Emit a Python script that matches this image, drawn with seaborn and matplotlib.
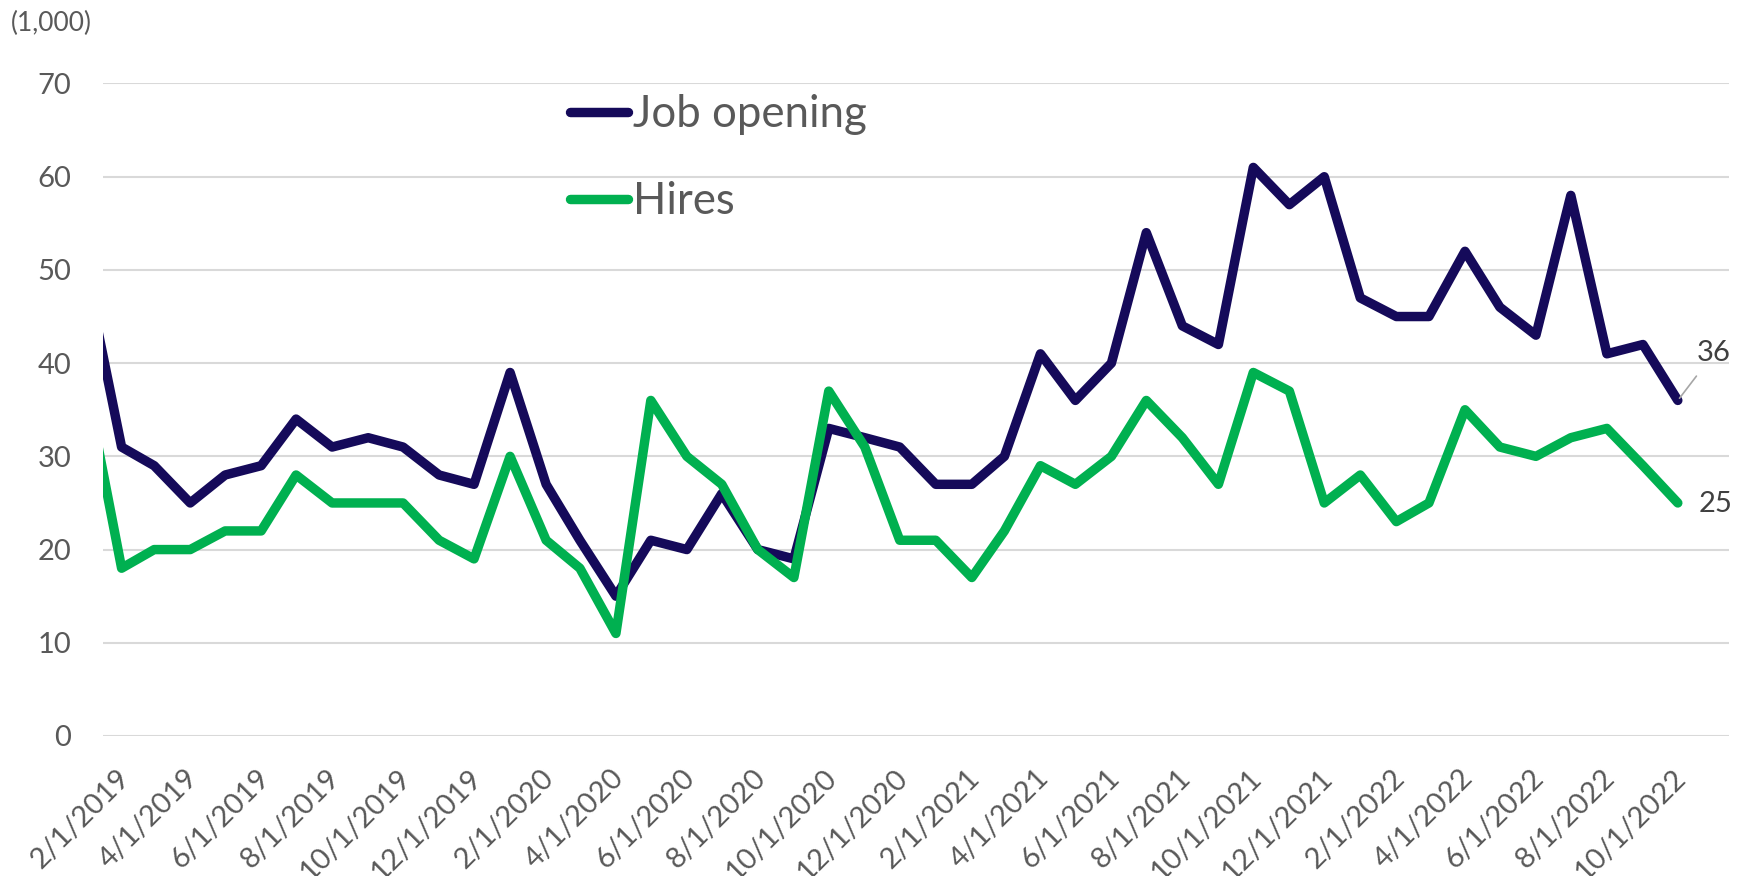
import pandas as pd
import matplotlib.pyplot as plt
import matplotlib.dates as mdates
import matplotlib.transforms as mtransforms
import seaborn as sns

# Styling
sns.set_style("white")
plt.rcParams['font.family'] = ['Lato', 'DejaVu Sans']

# Monthly data, 1/1/2019 .. 10/1/2022 (thousands)
months = pd.date_range("2019-01-01", "2022-10-01", freq="MS")
job_opening = [50, 31, 29, 25, 28, 29, 34, 31, 32, 31, 28, 27,
               39, 27, 21, 15, 21, 20, 26, 20, 19, 33, 32, 31,
               27, 27, 30, 41, 36, 40, 54, 44, 42, 61, 57, 60,
               47, 45, 45, 52, 46, 43, 58, 41, 42, 36]
hires = [38, 18, 20, 20, 22, 22, 28, 25, 25, 25, 21, 19,
         30, 21, 18, 11, 36, 30, 27, 20, 17, 37, 31, 21,
         21, 17, 22, 29, 27, 30, 36, 32, 27, 39, 37, 25,
         28, 23, 25, 35, 31, 30, 32, 33, 29, 25]
y_ticks = [0, 10, 20, 30, 40, 50, 60, 70]
tick_dates = months[1::2]
tick_labels = [f"{d.month}/{d.day}/{d.year}" for d in tick_dates]

NAVY = '#150A5A'
GREEN = '#00B050'
TEXT = '#595959'
W, H = 1746, 876

fig = plt.figure(figsize=(W / 100, H / 100), dpi=100)
ax = fig.add_axes([103 / W, 1 - 736 / H, (1729 - 103) / W, (736 - 83.5) / H])

line_kw = dict(lw=6.8, solid_joinstyle='round', solid_capstyle='round')
sns.lineplot(x=months, y=job_opening, ax=ax, color=NAVY, label='Job opening', **line_kw)
sns.lineplot(x=months, y=hires, ax=ax, color=GREEN, label='Hires', **line_kw)

ax.set_xlim(mdates.date2num(pd.Timestamp("2019-01-16")), mdates.date2num(pd.Timestamp("2022-11-14")))
ax.set_ylim(0, 70)
ax.set_yticks(y_ticks)
ax.set_xticks(tick_dates)
ax.set_xticklabels(tick_labels)
ax.set_xlabel('')
ax.set_ylabel('')

ax.grid(axis='y', color='#D9D9D9', lw=1.5)
ax.grid(axis='x', visible=False)
ax.set_axisbelow(True)
for s in ax.spines.values():
    s.set_visible(False)

ax.tick_params(axis='y', length=0, pad=23, labelsize=21, labelcolor=TEXT)
ax.tick_params(axis='x', length=0, pad=27, labelsize=21, labelcolor=TEXT)
shift = mtransforms.ScaledTranslation(4 / 100, 0, fig.dpi_scale_trans)
for lab in ax.get_xticklabels():
    lab.set_rotation(45)
    lab.set_ha('right')
    lab.set_va('center')
    lab.set_rotation_mode('anchor')
    lab.set_transform(lab.get_transform() + shift)

# Data labels on last points
ax.annotate(str(job_opening[-1]), xy=(months[-1], job_opening[-1]), xytext=(26, 34),
            textcoords='offset points', ha='center', va='center', fontsize=21, color='#404040',
            arrowprops=dict(arrowstyle='-', color='#A6A6A6', lw=1.2, shrinkA=6, shrinkB=2),
            annotation_clip=False)
ax.annotate(str(hires[-1]), xy=(months[-1], hires[-1]), xytext=(27, -1),
            textcoords='offset points', ha='center', va='center', fontsize=21, color='#404040',
            annotation_clip=False)

leg = ax.legend(loc='upper left', bbox_to_anchor=(570 / W, 1 - 94 / H), bbox_transform=fig.transFigure,
                frameon=False, fontsize=31.5, handlelength=1.33, handletextpad=0.1,
                labelspacing=1.05, borderpad=0, borderaxespad=0)
for t in leg.get_texts():
    t.set_color(TEXT)

fig.text(11 / W, 1 - 23 / H, '(1,000)', fontsize=19, color=TEXT, ha='left', va='center')

fig.savefig('out.png', dpi=100)
plt.close(fig)
